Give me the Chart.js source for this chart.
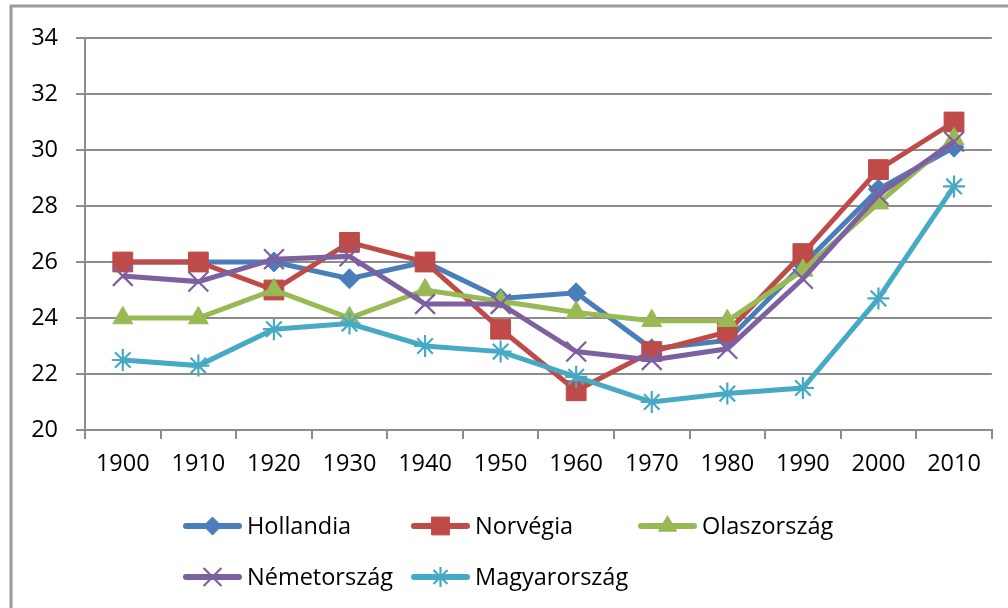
<!DOCTYPE html>
<html>
<head>
<meta charset="utf-8">
<script src="https://cdn.jsdelivr.net/npm/chart.js@4/dist/chart.umd.min.js"></script>
<style>
  html, body { margin: 0; padding: 0; background: #fff; }
  #wrap { position: relative; width: 1008px; height: 608px; }
</style>
</head>
<body>
<div id="wrap"><canvas id="c" width="1008" height="608"></canvas></div>
<script>
const categories = ['1900','1910','1920','1930','1940','1950','1960','1970','1980','1990','2000','2010'];
const seriesNames = ['Hollandia','Norvégia','Olaszország','Németország','Magyarország'];
const hollandia    = [26.0, 26.0, 26.0, 25.4, 26.0, 24.7, 24.9, 22.9, 23.2, 25.9, 28.6, 30.1];
const norvegia     = [26.0, 26.0, 25.0, 26.7, 26.0, 23.6, 21.4, 22.8, 23.5, 26.3, 29.3, 31.0];
const olaszorszag  = [24.0, 24.0, 25.0, 24.0, 25.0, 24.6, 24.2, 23.9, 23.9, 25.7, 28.1, 30.4];
const nemetorszag  = [25.5, 25.3, 26.1, 26.2, 24.5, 24.5, 22.8, 22.5, 22.9, 25.4, 28.4, 30.3];
const magyarorszag = [22.5, 22.3, 23.6, 23.8, 23.0, 22.8, 21.9, 21.0, 21.3, 21.5, 24.7, 28.7];
const yMin = 20, yMax = 34, yStep = 2;

const FONT = "'Open Sans', 'Noto Sans', sans-serif";
const colors = ['#4A7EBB', '#BE4B48', '#98B954', '#7D60A0', '#46AAC5'];
const styles = [
  { pointStyle: 'rectRot', radius: 10, bw: 1 },
  { pointStyle: 'rect', radius: 14, bw: 1 },
  { pointStyle: 'triangle', radius: 11.5, bw: 1 },
  { pointStyle: 'crossRot', radius: 14, bw: 2.2 },
  { pointStyle: 'star', radius: 11, bw: 2.2 }
];
const allData = [hollandia, norvegia, olaszorszag, nemetorszag, magyarorszag];

const datasets = allData.map((d, i) => ({
  label: seriesNames[i],
  data: d,
  borderColor: colors[i],
  backgroundColor: colors[i],
  borderWidth: 5,
  pointStyle: styles[i].pointStyle,
  pointRadius: styles[i].radius,
  pointHoverRadius: styles[i].radius,
  pointBorderWidth: styles[i].bw,
  pointBorderColor: colors[i],
  pointBackgroundColor: colors[i],
  tension: 0,
  order: 5 - i,
  clip: false
}));

const frameAndLegend = {
  id: 'frameAndLegend',
  beforeDraw(chart) {
    const ctx = chart.ctx;
    ctx.save();
    ctx.fillStyle = '#fff';
    ctx.fillRect(0, 0, chart.width, chart.height);
    ctx.strokeStyle = '#9a9a9a';
    ctx.lineWidth = 3;
    ctx.beginPath();
    ctx.moveTo(11, 608);
    ctx.lineTo(11, 6);
    ctx.lineTo(1008, 6);
    ctx.stroke();
    ctx.restore();
  },
  afterDraw(chart) {
    const ctx = chart.ctx;
    const pos = [[183, 526], [411, 526], [638, 526], [183, 577], [411, 577]];
    ctx.save();
    chart.data.datasets.forEach((ds, i) => {
      const [x, y] = pos[i];
      ctx.strokeStyle = ds.borderColor;
      ctx.lineWidth = 6;
      ctx.lineCap = 'round';
      ctx.beginPath();
      ctx.moveTo(x + 3, y);
      ctx.lineTo(x + 56, y);
      ctx.stroke();
      ctx.lineCap = 'butt';
      ctx.fillStyle = ds.backgroundColor;
      ctx.strokeStyle = ds.borderColor;
      ctx.lineWidth = ds.pointBorderWidth;
      Chart.helpers.drawPoint(ctx, {
        pointStyle: ds.pointStyle,
        radius: ds.pointRadius * 0.9,
        rotation: 0,
        borderWidth: ds.pointBorderWidth
      }, x + 29.5, y);
      ctx.fillStyle = '#000';
      ctx.font = '23.5px ' + FONT;
      ctx.textBaseline = 'middle';
      ctx.textAlign = 'left';
      ctx.fillText(ds.label, x + 64, y + 1);
    });
    ctx.restore();
  }
};

new Chart(document.getElementById('c'), {
  type: 'line',
  data: { labels: categories, datasets },
  plugins: [frameAndLegend],
  options: {
    responsive: false,
    animation: false,
    devicePixelRatio: 1,
    layout: { padding: { left: 0, right: 15, top: 38, bottom: 0 } },
    plugins: { legend: { display: false }, tooltip: { enabled: false } },
    scales: {
      x: {
        type: 'category',
        offset: true,
        grid: {
          display: true,
          offset: true,
          drawOnChartArea: false,
          drawTicks: true,
          tickLength: 9,
          color: '#8c8c8c',
          lineWidth: 2
        },
        border: { display: true, color: '#8c8c8c', width: 2 },
        ticks: {
          color: '#000',
          font: { family: FONT, size: 23.5 },
          padding: 11,
          maxRotation: 0,
          autoSkip: false
        },
        afterFit(scale) { scale.height = 178; }
      },
      y: {
        min: yMin,
        max: yMax,
        ticks: {
          stepSize: yStep,
          color: '#000',
          font: { family: FONT, size: 23.5 },
          padding: 18
        },
        grid: {
          color: '#8c8c8c',
          lineWidth: 2,
          tickLength: 9,
          drawTicks: true
        },
        border: { display: true, color: '#8c8c8c', width: 2 },
        afterFit(scale) { scale.width = 85; }
      }
    }
  }
});
</script>
</body>
</html>
